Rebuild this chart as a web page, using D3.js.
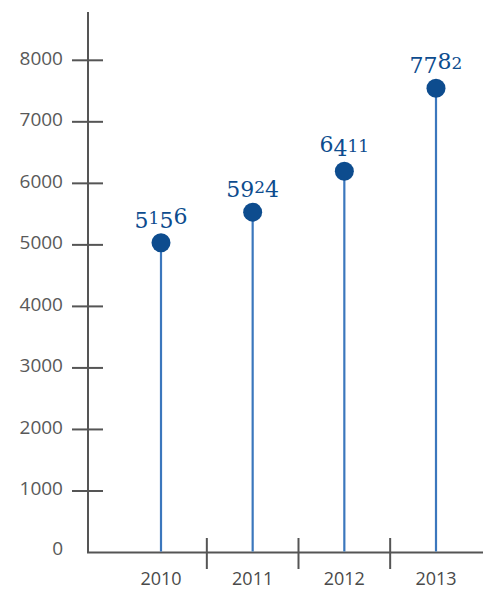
<!DOCTYPE html>
<html><head><meta charset="utf-8">
<script src="https://cdn.jsdelivr.net/npm/d3@7"></script>
<style>html,body{margin:0;padding:0;background:#fff;}svg{display:block;}</style>
</head><body>
<svg id="c" width="483" height="590"></svg>
<script>
const years = ["2010", "2011", "2012", "2013"];
const plotted = [5036, 5532, 6198, 7545];      // heights as drawn in the picture
const valueLabels = ["5156", "5924", "6411", "7782"]; // printed labels
const yTicks = [0, 1000, 2000, 3000, 4000, 5000, 6000, 7000, 8000];

const svg = d3.select("#c");
const axisColor = "#555555";
const x0 = 88, yBottom = 552.5, yTop = 12, xRight = 483;

const y = d3.scaleLinear().domain([0, 8000]).range([yBottom, 60.3]);
const x = d3.scalePoint().domain(years).range([161, 436]);
const step = x.step();

// y axis
const gy = svg.append("g");
gy.append("line").attr("x1", x0).attr("x2", x0).attr("y1", yTop).attr("y2", yBottom)
  .attr("stroke", axisColor).attr("stroke-width", 2);
gy.selectAll("line.t").data(yTicks.filter(d => d > 0)).join("line").attr("class", "t")
  .attr("x1", 72).attr("x2", 103).attr("y1", d => y(d)).attr("y2", d => y(d))
  .attr("stroke", axisColor).attr("stroke-width", 2);
gy.selectAll("text").data(yTicks).join("text")
  .attr("x", 63).attr("y", d => y(d) - (d === 0 ? 4 : 2.5))
  .attr("dy", "0.36em").attr("text-anchor", "end")
  .attr("font-family", "'Open Sans', sans-serif").attr("font-size", 19)
  .attr("fill", "#595959").text(d => d);

// x axis
const gx = svg.append("g");
gx.append("line").attr("x1", x0 - 1).attr("x2", xRight).attr("y1", yBottom).attr("y2", yBottom)
  .attr("stroke", axisColor).attr("stroke-width", 2);
gx.selectAll("line.t").data(years.slice(1)).join("line").attr("class", "t")
  .attr("x1", d => x(d) - step / 2).attr("x2", d => x(d) - step / 2)
  .attr("y1", 538).attr("y2", 569).attr("stroke", axisColor).attr("stroke-width", 2);
gx.selectAll("text").data(years).join("text")
  .attr("x", d => x(d)).attr("y", 579).attr("dy", "0.36em").attr("text-anchor", "middle")
  .attr("font-family", "'Open Sans', sans-serif").attr("font-size", 18)
  .attr("fill", "#4a4a4a").text(d => d);

// stems
const data = years.map((yr, i) => ({ yr, v: plotted[i], label: valueLabels[i] }));
svg.selectAll("line.stem").data(data).join("line").attr("class", "stem")
  .attr("x1", d => x(d.yr)).attr("x2", d => x(d.yr))
  .attr("y1", yBottom - 1).attr("y2", d => y(d.v))
  .attr("stroke", "#3b77bd").attr("stroke-width", 2.2);
svg.selectAll("circle").data(data).join("circle")
  .attr("cx", d => x(d.yr)).attr("cy", d => y(d.v)).attr("r", 9.5)
  .attr("fill", "#0d4c8e");

// value labels with old-style figure emulation
const small = new Set(["0", "1", "2"]);
const desc = new Set(["3", "4", "5", "7", "9"]);
const labs = svg.selectAll("text.val").data(data).join("text").attr("class", "val")
  .attr("x", d => x(d.yr)).attr("y", d => y(d.v) - 19)
  .attr("text-anchor", "middle")
  .attr("font-family", "'DejaVu Serif', 'Liberation Serif', serif")
  .attr("font-size", 22).attr("fill", "#0d4c8e");
labs.each(function (d) {
  const t = d3.select(this);
  let prevShift = 0;
  d.label.split("").forEach(ch => {
    let shift = 0, fs = 22;
    if (small.has(ch)) fs = 17;
    if (desc.has(ch)) shift = 4;
    t.append("tspan").attr("font-size", fs).attr("dy", shift - prevShift).text(ch);
    prevShift = shift;
  });
});
</script>
</body></html>
